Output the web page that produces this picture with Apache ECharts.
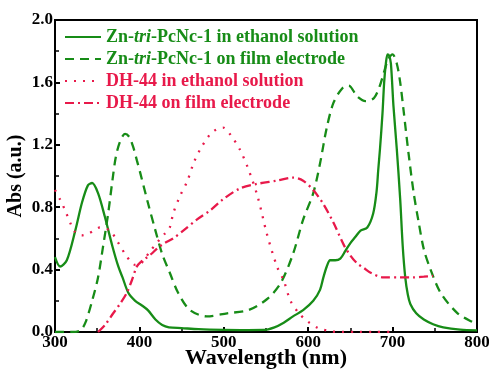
<!DOCTYPE html>
<html>
<head>
<meta charset="utf-8">
<script src="https://cdn.jsdelivr.net/npm/echarts@6/dist/echarts.min.js"></script>
<style>html,body{margin:0;padding:0;background:#fff}#c{width:489px;height:370px}</style>
</head>
<body>
<div id="c"></div>
<script>
// Zn-tri-PcNc-1 in ethanol solution
var znSolW = [300,306,314,324,332,339,344,351,359,368,375,380,387,395,403,410,419,427,435,450,470,500,520,547,560,571,582,594,606,614,618,622,626,632,638,644,650,656,662,670,677,681,683,685,688,690,692,694,696,698,701,705,709,712,715,718,721,728,737,748,760,780,800];
var znSolV = [0.48,0.42,0.46,0.65,0.83,0.94,0.955,0.89,0.74,0.55,0.42,0.35,0.25,0.20,0.17,0.14,0.08,0.045,0.03,0.025,0.018,0.013,0.012,0.013,0.03,0.06,0.1,0.14,0.2,0.27,0.35,0.42,0.46,0.46,0.47,0.52,0.57,0.61,0.65,0.67,0.76,0.9,1.04,1.17,1.4,1.6,1.72,1.78,1.77,1.72,1.45,1.17,0.85,0.55,0.35,0.24,0.18,0.12,0.08,0.05,0.03,0.015,0.01];
// Zn-tri-PcNc-1 on film electrode
var znFilmW = [300,320,330,336,344,351,357,363,368,372,377,383,388,393,397,401,410,419,427,436,446,460,480,504,529,551,567,582,594,606,614,622,630,640,648,658,668,678,685,690,695,700,705,709,713,719,725,731,737,745,757,777,796,800];
var znFilmV = [0,0,0.01,0.06,0.2,0.35,0.55,0.76,0.97,1.12,1.22,1.27,1.25,1.18,1.1,1.02,0.83,0.65,0.5,0.38,0.25,0.14,0.1,0.12,0.14,0.21,0.31,0.5,0.72,0.89,1.08,1.31,1.47,1.56,1.58,1.51,1.48,1.5,1.58,1.67,1.75,1.78,1.72,1.6,1.42,1.14,0.89,0.7,0.53,0.4,0.25,0.12,0.06,0.05];
// DH-44 in ethanol solution
var dhSolW = [300,306,312,318,324,332,339,346,353,365,374,383,390,395,400,405,413,422,430,436,440,448,457,464,472,486,499,511,519,528,540,551,563,571,579,589,600,612,626,640,660,680,700];
var dhSolV = [0.91,0.85,0.78,0.7,0.64,0.62,0.63,0.65,0.67,0.65,0.58,0.5,0.45,0.43,0.43,0.46,0.52,0.58,0.63,0.67,0.76,0.87,0.97,1.08,1.17,1.28,1.31,1.24,1.17,1.06,0.87,0.63,0.42,0.33,0.2,0.12,0.065,0.025,0.005,0,0,0,0];
// DH-44 on film electrode
var dhFilmW = [351,360,369,377,385,391,397,402,407,414,422,430,440,452,468,484,499,519,540,563,582,594,606,618,630,642,650,658,666,674,689,709,725,737,748];
var dhFilmV = [0,0.05,0.12,0.18,0.25,0.33,0.42,0.45,0.47,0.5,0.54,0.57,0.6,0.65,0.72,0.78,0.85,0.92,0.95,0.97,0.99,0.97,0.91,0.82,0.7,0.56,0.49,0.44,0.41,0.38,0.35,0.35,0.35,0.355,0.36];

var seriesNames = ['Zn-tri-PcNc-1 in ethanol solution','Zn-tri-PcNc-1 on film electrode','DH-44 in ethanol solution','DH-44 on film electrode'];
var xTicks = [300,400,500,600,700,800];
var yTicks = [0.0,0.4,0.8,1.2,1.6,2.0];

var GREEN = '#178c17', RED = '#e8194a';
var FONT = 'Liberation Serif';
function pairs(w, v){ return w.map(function(x,i){ return [x, v[i]]; }); }

var chart = echarts.init(document.getElementById('c'), null, {renderer:'canvas'});
chart.setOption({
  animation:false,
  backgroundColor:'#fff',
  grid:{left:55,right:12,top:20,bottom:38,outerBoundsMode:'none',containLabel:false,
    show:true,borderColor:'#000',borderWidth:2,backgroundColor:'transparent'},
  legend:{
    orient:'vertical', left:59, top:23, itemWidth:36, itemHeight:14, itemGap:4,
    itemStyle:{opacity:0},
    textStyle:{fontFamily:FONT,fontWeight:'bold',fontSize:18,
      rich:{i:{fontStyle:'italic',fontWeight:'bold',fontFamily:FONT,fontSize:18}}},
    formatter:function(n){ return n.replace('-tri-','-{i|tri}-'); },
    data:[
      {name:seriesNames[0],textStyle:{color:GREEN}},
      {name:seriesNames[1],textStyle:{color:GREEN}},
      {name:seriesNames[2],textStyle:{color:RED}},
      {name:seriesNames[3],textStyle:{color:RED}}
    ]
  },
  xAxis:{type:'value',min:300,max:800,interval:100,
    name:'Wavelength (nm)',nameLocation:'middle',nameGap:15,nameMoveOverlap:false,
    nameTextStyle:{fontFamily:FONT,fontWeight:'bold',fontSize:22,color:'#000'},
    axisLine:{lineStyle:{color:'#000',width:2}},
    axisTick:{inside:true,length:5,lineStyle:{color:'#000',width:2}},
    minorTick:{show:true,splitNumber:2,length:4,lineStyle:{color:'#000',width:1.5}},
    splitLine:{show:false},
    axisLabel:{fontFamily:FONT,fontWeight:'bold',fontSize:17,color:'#000',margin:2,
      formatter:function(v){ return xTicks.indexOf(v)>=0 ? String(v) : ''; }}
  },
  yAxis:{type:'value',min:0,max:2,interval:0.4,
    name:'Abs (a.u.)',nameLocation:'middle',nameGap:29,nameRotate:90,nameMoveOverlap:false,
    nameTextStyle:{fontFamily:FONT,fontWeight:'bold',fontSize:20,color:'#000'},
    axisLine:{lineStyle:{color:'#000',width:2}},
    axisTick:{inside:true,length:5,lineStyle:{color:'#000',width:2}},
    minorTick:{show:true,splitNumber:2,length:4,lineStyle:{color:'#000',width:1.5}},
    splitLine:{show:false},
    axisLabel:{fontFamily:FONT,fontWeight:'bold',fontSize:17,color:'#000',margin:2,
      formatter:function(v){ return v.toFixed(1); }}
  },
  series:[
    {name:seriesNames[0],type:'line',data:pairs(znSolW,znSolV),symbol:'none',smooth:0.3,
      itemStyle:{color:GREEN},lineStyle:{color:GREEN,width:2.3,type:'solid'}},
    {name:seriesNames[1],type:'line',data:pairs(znFilmW,znFilmV),symbol:'none',smooth:0.3,
      itemStyle:{color:GREEN},lineStyle:{color:GREEN,width:2.3,type:[9,6]}},
    {name:seriesNames[2],type:'line',data:pairs(dhSolW,dhSolV),symbol:'none',smooth:0.3,
      itemStyle:{color:RED},lineStyle:{color:RED,width:2.3,type:[2,7]}},
    {name:seriesNames[3],type:'line',data:pairs(dhFilmW,dhFilmV),symbol:'none',smooth:0.3,
      itemStyle:{color:RED},lineStyle:{color:RED,width:2.3,type:[9,4,2,4]}}
  ]
});
</script>
</body>
</html>
